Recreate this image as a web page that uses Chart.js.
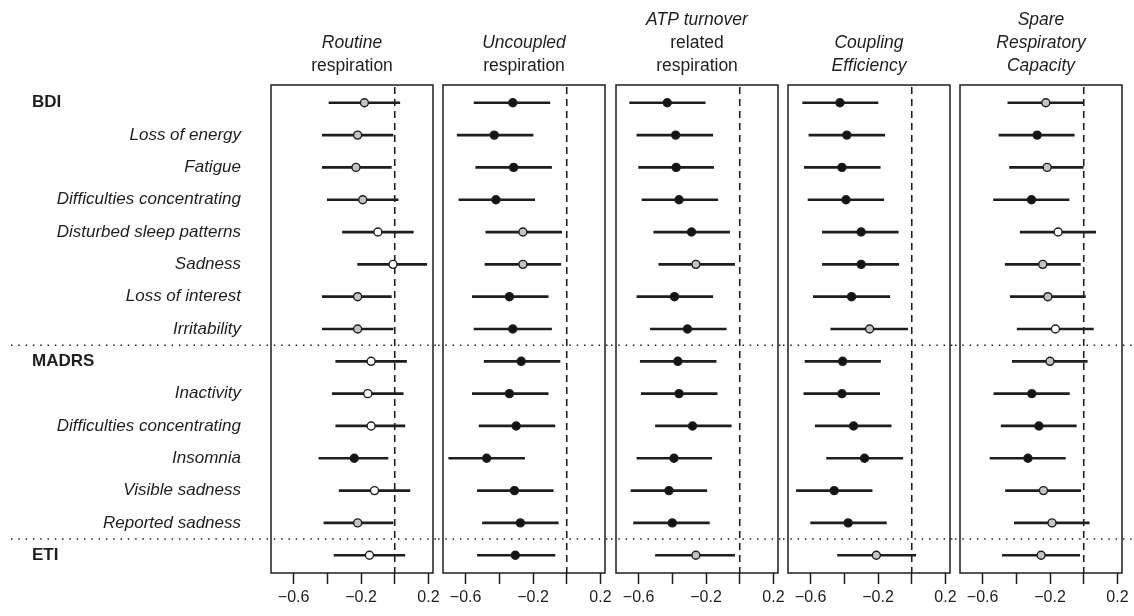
<!DOCTYPE html>
<html lang="en">
<head>
<meta charset="UTF-8">
<title>Forest plot – respiration vs depression items</title>
<script src="https://cdn.jsdelivr.net/npm/chart.js"></script>
<style>
  html, body { margin: 0; padding: 0; background: #fff; overflow: hidden; }
  #wrap { position: relative; width: 1134px; height: 616px; }
  #wrap canvas { position: absolute; top: 0; }
</style>
</head>
<body>
<div id="wrap"></div>
<script>
// rows, top to bottom
const rowLabels = ['BDI', 'Loss of energy', 'Fatigue', 'Difficulties concentrating',
  'Disturbed sleep patterns', 'Sadness', 'Loss of interest', 'Irritability',
  'MADRS', 'Inactivity', 'Difficulties concentrating', 'Insomnia',
  'Visible sadness', 'Reported sadness', 'ETI'];
const rowHeader = [1, 0, 0, 0, 0, 0, 0, 0, 1, 0, 0, 0, 0, 0, 1];
const rowPos = [1, 2, 3, 4, 5, 6, 7, 8, 9, 10, 11, 12, 13, 14, 15];
const groupBreaks = [8.5, 14.5];

const tickValues = [-0.6, -0.4, -0.2, 0, 0.2];
const tickLabels = ['\u22120.6', '', '\u22120.2', '', '0.2'];

const panelTitles = [['Routine', 'respiration'], ['Uncoupled', 'respiration'],
  ['ATP turnover', 'related', 'respiration'], ['Coupling', 'Efficiency'],
  ['Spare', 'Respiratory', 'Capacity']];
const panelTitleItalic = [[1, 0], [1, 0], [1, 0, 0], [1, 1], [1, 1, 1]];

// estimate, lower CI, upper CI, colour class (0 white, 1 grey, 2 black)
const routineEst = [-0.18, -0.22, -0.23, -0.19, -0.10, -0.01, -0.22, -0.22, -0.14, -0.16, -0.14, -0.24, -0.12, -0.22, -0.15];
const routineLo  = [-0.39, -0.43, -0.43, -0.40, -0.31, -0.22, -0.43, -0.43, -0.35, -0.37, -0.35, -0.45, -0.33, -0.42, -0.36];
const routineHi  = [0.03, -0.01, -0.02, 0.02, 0.11, 0.19, -0.02, -0.01, 0.07, 0.05, 0.06, -0.04, 0.09, -0.01, 0.06];
const routineSig = [1, 1, 1, 1, 0, 0, 1, 1, 0, 0, 0, 2, 0, 1, 0];

const uncoupledEst = [-0.32, -0.43, -0.315, -0.42, -0.26, -0.26, -0.34, -0.32, -0.27, -0.34, -0.30, -0.475, -0.31, -0.275, -0.305];
const uncoupledLo  = [-0.55, -0.65, -0.54, -0.64, -0.48, -0.485, -0.56, -0.55, -0.49, -0.56, -0.52, -0.70, -0.53, -0.50, -0.53];
const uncoupledHi  = [-0.10, -0.20, -0.09, -0.19, -0.03, -0.035, -0.11, -0.09, -0.04, -0.11, -0.07, -0.25, -0.08, -0.05, -0.07];
const uncoupledSig = [2, 2, 2, 2, 1, 1, 2, 2, 2, 2, 2, 2, 2, 2, 2];

const atpEst = [-0.43, -0.38, -0.377, -0.36, -0.286, -0.26, -0.387, -0.31, -0.367, -0.36, -0.28, -0.39, -0.42, -0.40, -0.26];
const atpLo  = [-0.653, -0.61, -0.60, -0.58, -0.51, -0.48, -0.61, -0.53, -0.59, -0.584, -0.50, -0.61, -0.645, -0.63, -0.50];
const atpHi  = [-0.205, -0.16, -0.155, -0.13, -0.06, -0.03, -0.16, -0.08, -0.14, -0.134, -0.05, -0.166, -0.195, -0.18, -0.03];
const atpSig = [2, 2, 2, 2, 2, 1, 2, 2, 2, 2, 2, 2, 2, 2, 1];

const couplingEst = [-0.426, -0.385, -0.414, -0.39, -0.30, -0.30, -0.357, -0.25, -0.41, -0.414, -0.345, -0.28, -0.46, -0.377, -0.21];
const couplingLo  = [-0.647, -0.61, -0.637, -0.615, -0.53, -0.53, -0.584, -0.48, -0.633, -0.64, -0.572, -0.505, -0.684, -0.60, -0.44];
const couplingHi  = [-0.20, -0.16, -0.187, -0.166, -0.08, -0.077, -0.13, -0.024, -0.185, -0.19, -0.122, -0.053, -0.235, -0.15, 0.024];
const couplingSig = [2, 2, 2, 2, 2, 2, 2, 1, 2, 2, 2, 2, 2, 2, 1];

const spareEst = [-0.225, -0.276, -0.217, -0.31, -0.152, -0.243, -0.213, -0.168, -0.20, -0.308, -0.266, -0.331, -0.239, -0.188, -0.253];
const spareLo  = [-0.45, -0.503, -0.44, -0.535, -0.377, -0.466, -0.436, -0.395, -0.424, -0.533, -0.49, -0.556, -0.464, -0.412, -0.483];
const spareHi  = [0.0, -0.056, 0.0, -0.087, 0.071, -0.02, 0.01, 0.057, 0.021, -0.085, -0.044, -0.109, -0.018, 0.033, -0.024];
const spareSig = [1, 2, 1, 2, 0, 1, 1, 0, 1, 2, 2, 2, 1, 1, 1];

const panels = [
  [routineEst, routineLo, routineHi, routineSig],
  [uncoupledEst, uncoupledLo, uncoupledHi, uncoupledSig],
  [atpEst, atpLo, atpHi, atpSig],
  [couplingEst, couplingLo, couplingHi, couplingSig],
  [spareEst, spareLo, spareHi, spareSig]
];

const sigFill = ['#ffffff', '#c4c4c4', '#141414'];
const FONT = '"Liberation Sans", Arial, Helvetica, sans-serif';
const INK = '#1e1e1e';

function decor(p) {
  return {
    id: 'decor' + p,
    beforeDatasetsDraw(chart) {
      const { ctx, chartArea: a, scales: { x, y } } = chart;
      ctx.save();
      ctx.strokeStyle = INK;
      // zero reference line
      ctx.lineWidth = 1.6;
      ctx.setLineDash([7, 5]);
      const x0 = x.getPixelForValue(0);
      ctx.beginPath(); ctx.moveTo(x0, a.top + 2); ctx.lineTo(x0, a.bottom); ctx.stroke();
      // dotted group separators
      ctx.lineWidth = 1.5;
      ctx.setLineDash([1.5, 5.8]);
      const from = p === 0 ? 11 : a.left - 5;
      const to = p === 4 ? chart.width : a.right + 5;
      groupBreaks.forEach(b => {
        const yy = y.getPixelForValue(b);
        ctx.beginPath(); ctx.moveTo(from, yy); ctx.lineTo(to, yy); ctx.stroke();
      });
      ctx.restore();
    },
    afterDraw(chart) {
      const { ctx, chartArea: a, scales: { y } } = chart;
      ctx.save();
      ctx.strokeStyle = INK;
      ctx.lineWidth = 1.5;
      ctx.strokeRect(a.left, a.top, a.right - a.left, a.bottom - a.top);

      // panel title, bottom aligned above the box
      ctx.fillStyle = INK;
      ctx.textAlign = 'center';
      ctx.textBaseline = 'middle';
      const lines = panelTitles[p];
      const cx = (a.left + a.right) / 2;
      lines.forEach((t, i) => {
        ctx.font = (panelTitleItalic[p][i] ? 'italic ' : '') + '17.5px ' + FONT;
        ctx.fillText(t, cx, a.top - 19 - (lines.length - 1 - i) * 22.7);
      });

      // row labels left of the first panel
      if (p === 0) {
        rowLabels.forEach((t, i) => {
          const yy = y.getPixelForValue(rowPos[i]);
          if (rowHeader[i]) {
            ctx.font = 'bold 17px ' + FONT;
            ctx.textAlign = 'left';
            ctx.fillText(t, 32, yy);
          } else {
            ctx.font = 'italic 17px ' + FONT;
            ctx.textAlign = 'right';
            ctx.fillText(t, a.left - 30, yy);
          }
        });
      }
      ctx.restore();
    }
  };
}

const panelLeft = [271, 443, 616, 788, 960];
const panelWidth = 162;
const wrap = document.getElementById('wrap');

panels.forEach(([est, lo, hi, sig], p) => {
  const padL = p === 0 ? panelLeft[0] : 30;
  const padR = p === 4 ? 1134 - (panelLeft[4] + panelWidth) : 30;
  const canvas = document.createElement('canvas');
  canvas.width = padL + panelWidth + padR;
  canvas.height = 616;
  canvas.style.left = (panelLeft[p] - padL) + 'px';
  wrap.appendChild(canvas);

  new Chart(canvas, {
    type: 'scatter',
    data: {
      datasets: [{
        type: 'scatter',
        order: 0,
        data: rowPos.map((r, i) => ({ x: est[i], y: r })),
        pointRadius: 4,
        pointBorderWidth: 1.4,
        pointBorderColor: INK,
        pointBackgroundColor: sig.map(s => sigFill[s])
      }, {
        type: 'bar',
        order: 1,
        indexAxis: 'y',
        data: rowPos.map((r, i) => ({ y: r, x: [lo[i], hi[i]] })),
        backgroundColor: INK,
        borderWidth: 0,
        barThickness: 2
      }]
    },
    options: {
      responsive: false,
      animation: false,
      events: [],
      layout: { padding: { left: padL, right: padR, top: 85, bottom: 0 } },
      plugins: { legend: { display: false }, tooltip: { enabled: false } },
      scales: {
        x: {
          type: 'linear',
          min: -0.734,
          max: 0.227,
          offset: false,
          afterBuildTicks: s => { s.ticks = tickValues.map(v => ({ value: v })); },
          afterFit: s => { s.height = 43; s.paddingLeft = 0; s.paddingRight = 0; },
          grid: { offset: false, drawOnChartArea: false, drawTicks: true, tickLength: 11, tickColor: INK, tickWidth: 1.5 },
          border: { display: false },
          ticks: {
            autoSkip: false,
            maxRotation: 0,
            padding: 4,
            color: INK,
            font: { family: FONT, size: 16 },
            callback: (v, i) => tickLabels[i]
          }
        },
        y: {
          type: 'linear',
          reverse: true,
          min: 0.45,
          max: 15.55,
          offset: false,
          grid: { offset: false },
          display: false
        }
      }
    },
    plugins: [decor(p)]
  });
});
</script>
</body>
</html>
